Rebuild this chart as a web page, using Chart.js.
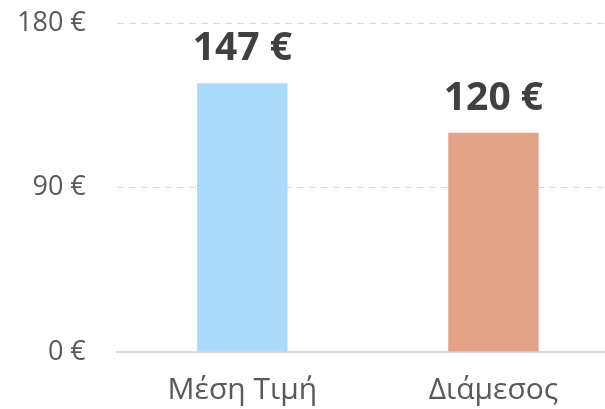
<!DOCTYPE html>
<html>
<head>
<meta charset="utf-8">
<script src="https://cdn.jsdelivr.net/npm/chart.js@4"></script>
<style>
  body { margin: 0; overflow: hidden; background: #fff; }
  #wrap { position: relative; width: 620px; height: 409px; }
</style>
</head>
<body>
<div id="wrap"><canvas id="priceChart"></canvas></div>
<script>
// chart data
const categories = ['Μέση Τιμή', 'Διάμεσος'];
const values = [147, 120];
const barColors = ['#AADAFB', '#E2A386'];
const yTicks = [0, 90, 180];

// value labels above the bars
const valueLabels = {
    id: 'valueLabels',
    afterDatasetsDraw(chart) {
        const ctx = chart.ctx;
        const meta = chart.getDatasetMeta(0);
        ctx.save();
        ctx.font = 'bold 39px "Open Sans"';
        ctx.fillStyle = '#404040';
        ctx.textAlign = 'center';
        ctx.textBaseline = 'alphabetic';
        meta.data.forEach((bar, i) => {
            ctx.fillText(values[i] + ' €', bar.x, bar.y - 23);
        });
        ctx.restore();
    }
};

const ctx = document.getElementById('priceChart').getContext('2d');
const priceChart = new Chart(ctx, {
    type: 'bar',
    data: {
        labels: categories,
        datasets: [{
            data: values,
            backgroundColor: barColors,
            barPercentage: 0.72,
            categoryPercentage: 0.5
        }]
    },
    options: {
        responsive: true,
        maintainAspectRatio: false,
        animation: false,
        layout: { padding: { top: 23, left: 17, right: 1, bottom: 1 } },
        plugins: {
            legend: { display: false },
            tooltip: { enabled: false }
        },
        scales: {
            y: {
                min: 0,
                max: 180,
                afterBuildTicks: (axis) => { axis.ticks = yTicks.map(v => ({ value: v })); },
                afterFit: (axis) => {
                    axis.paddingTop = 0;
                    axis.paddingBottom = 0;
                    axis.width -= 31; // padding gets counted twice
                },
                ticks: {
                    padding: 31,
                    color: '#595959',
                    font: { family: '"Open Sans"', size: 27 },
                    callback: (v) => v + ' €'
                },
                grid: {
                    drawTicks: false,
                    lineWidth: 1,
                    color: (c) => c.tick && c.tick.value === 0 ? 'rgba(0,0,0,0)' : '#D9D9D9'
                },
                border: { display: false, dash: [7, 5] }
            },
            x: {
                afterFit: (axis) => {
                    axis.paddingLeft = 0;
                    axis.paddingRight = 0;
                    axis.height -= 20;
                },
                ticks: {
                    padding: 20,
                    color: '#595959',
                    font: { family: '"Open Sans"', size: 30 }
                },
                grid: { display: false, drawTicks: false },
                border: { display: true, color: '#D9D9D9', width: 2 }
            }
        }
    },
    plugins: [valueLabels]
});
</script>
</body>
</html>
